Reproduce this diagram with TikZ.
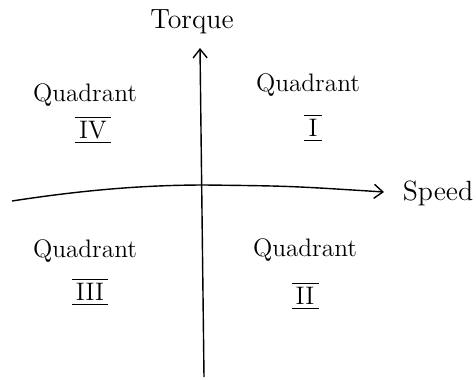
\documentclass[tikz,border=0pt]{standalone}
\usepackage{amsmath}
\usepackage{tikz}
\usetikzlibrary{arrows.meta,positioning}

\begin{document}
\begin{tikzpicture}[
  x=0.02cm,y=-0.02cm,
  axis/.style={thick,-{Straight Barb[length=5pt,width=8pt]}},
  quad/.style={font=\Large,align=center},
  roman/.style={font=\Large},
  label/.style={font=\Large,scale=1.1},
]
\useasboundingbox (0,0) rectangle (476,379);

% axes
\coordinate (tbot) at (204,377);
\coordinate (ttop) at (200,48);
\coordinate (sleft) at (12,201);
\coordinate (smid) at (205,185);
\coordinate (sright) at (384,192);
\draw[axis] (tbot) -- (ttop);
\draw[axis] (sleft) .. controls (90,189) and (150,185) .. (smid) .. controls (290,186) .. (sright);

\node[label] (torque) at (192,22) {Torque};
\node[label,anchor=west] (speed) at (396,193) {Speed};

% quadrants
\node[quad] (q1) at (308,85) {Quadrant};
\node[roman] (n1) at (313,128) {$\underline{\overline{\,\mathrm{I}\,}}$};
\node[quad] (q4) at (85,95) {Quadrant};
\node[roman] (n4) at (93,130) {$\underline{\overline{\,\mathrm{IV}\,}}$};
\node[quad] (q3) at (85,251) {Quadrant};
\node[roman] (n3) at (90,292) {$\underline{\overline{\,\mathrm{III}\,}}$};
\node[quad] (q2) at (305,250) {Quadrant};
\node[roman] (n2) at (305,296) {$\underline{\overline{\,\mathrm{II}\,}}$};
\end{tikzpicture}
\end{document}
